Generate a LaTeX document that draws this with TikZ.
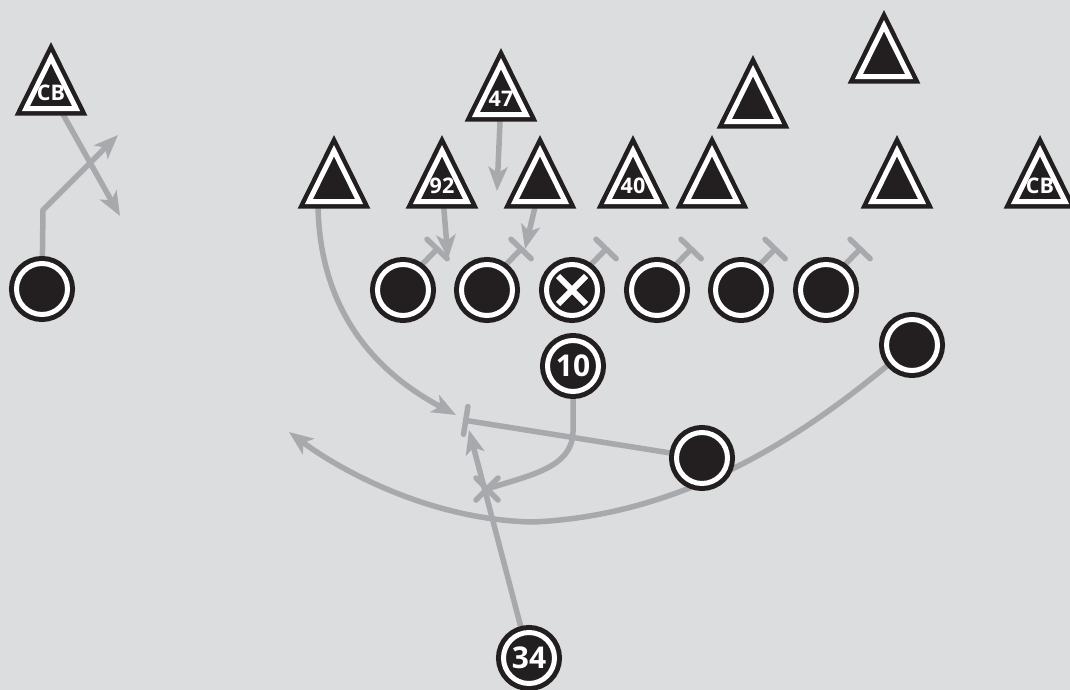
\documentclass[tikz,border=0pt]{standalone}
\usepackage{fontspec}
\newfontfamily\jersey{Open Sans}
\usetikzlibrary{arrows.meta}
\definecolor{field}{RGB}{220,221,223}
\definecolor{route}{RGB}{167,169,172}
\definecolor{ink}{RGB}{35,31,32}
\pgfdeclarelayer{board}
\pgfdeclarelayer{routes}
\pgfsetlayers{board,routes,main}

\begin{document}
\begin{tikzpicture}[x=1pt, y=-1pt,
    player/.style={circle, draw=ink, fill=ink, line width=5pt, double=white, double distance=5pt,
        minimum size=51pt, inner sep=0pt, outer sep=0pt, text=white, font=\jersey\bfseries\fontsize{30}{30}\selectfont},
    defender/.style={draw=ink, fill=ink, line width=4.5pt, double=white, double distance=5pt, miter limit=10},
    number/.style={text=white, inner sep=0pt, font=\jersey\bfseries\fontsize{21.5}{21.5}\selectfont},
    route/.style={draw=route, line width=5.5pt, line cap=round},
    run/.style={route, -{Stealth[length=24pt, width=19pt, inset=6pt]}},
    block/.style={route, -{Bar[width=28pt, round]}}]
    % Units: 1 = 1 px of the play sheet, y pointing down
    \begin{pgfonlayer}{board}
        \fill[field] (0,0) rectangle (1070,690);
    \end{pgfonlayer}
    \useasboundingbox (0,0) rectangle (1070,690);

    % Defense (triangles, placed by their incentre)
    \foreach \n/\x/\y in {cbL/51/93, d47/501/99, dA/334/186, d92/442/186, dC/540/186, d40/633/186,
                          dE/712/186, dF/753/106, dG/884/61, dH/897/186, cbR/1040/186}{
        \coordinate (\n) at (\x,\y);
        \filldraw[defender, shift={(\x,\y)}] (0,-35.2) -- (25.1,15.55) -- (-25.1,15.55) -- cycle;
    }
    \foreach \n/\l in {cbL/CB, d47/47, d92/92, d40/40, cbR/CB}
        \node[number] (\n-no) at (\n) {\l};

    % Offense
    \node[player] (wrL) at (42,289) {};
    \foreach \o/\x in {ol1/403, ol2/487, ctr/572, ol4/657, ol5/741, ol6/826}{
        \node[player] (\o) at (\x,290) {};
        \coordinate (\o-bar) at (\x+36,247);
    }
    \draw[white, line width=6pt] (ctr) ++(-14,-14) -- ++(28,28) ++(0,-28) -- ++(-28,28); % centre
    \node[player] (wrR) at (912,345) {};
    \node[player] (q10) at (573,366) {10};
    \node[player] (hb) at (702,458) {};
    \node[player] (r34) at (529,658) {34};

    % Route ends
    \coordinate (wrL-cut) at (43,210);
    \coordinate (wrL-end) at (118,135);
    \coordinate (cbL-end) at (120,216);
    \coordinate (d47-end) at (497,191);
    \coordinate (d92-end) at (448,259);
    \coordinate (dC-end) at (525,249);
    \coordinate (dA-out) at (318,196);
    \coordinate (dA-end) at (456,415);
    \coordinate (hb-bar) at (463,420);
    \coordinate (r34-end) at (469,430);
    \coordinate (q10-mesh) at (487,489);
    \coordinate (wrR-end) at (289,432);

    % Routes, under the players
    \begin{pgfonlayer}{routes}
        \draw[run] (wrL) -- (wrL-cut) -- (wrL-end);
        \draw[run] (cbL) -- (cbL-end);
        \draw[run] (d47) -- (d47-end);
        \draw[run] (d92) -- (d92-end);
        \draw[run] (dC) -- (dC-end);
        \foreach \o in {ol1, ol2, ctr, ol4, ol5, ol6}
            \draw[block] (\o.55) -- (\o-bar);
        \draw[block] (hb) -- (hb-bar);
        \draw[run] (dA-out) .. controls (316,330) and (400,385) .. (dA-end);
        \draw[run] (r34) -- (r34-end);
        \draw[route] (q10) -- (573,432) .. controls (572,468) and (530,475) .. (q10-mesh);
        \draw[route] (q10-mesh) ++(-11,-11) -- ++(22,22) ++(0,-22) -- ++(-22,22);
        \draw[run] (wrR) .. controls (810,430) and (690,515) .. (533,522)
            .. controls (430,520) and (340,470) .. (wrR-end);
    \end{pgfonlayer}
\end{tikzpicture}
\end{document}
